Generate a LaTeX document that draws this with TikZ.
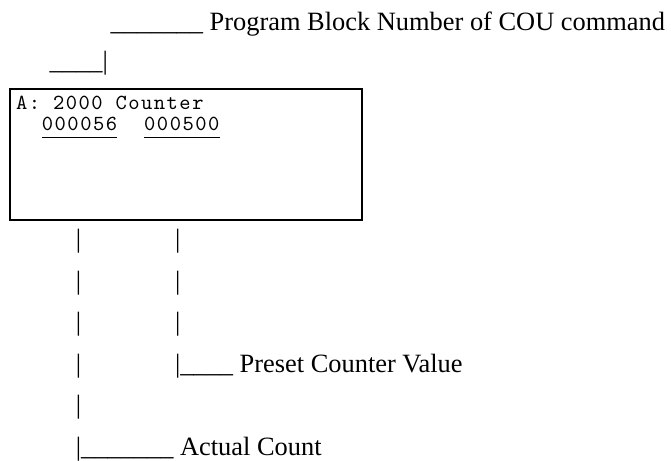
\documentclass[tikz,border=0pt]{standalone}
\usepackage{fontspec}
\setmainfont{Liberation Serif}
\newfontfamily\boxmono{lmmono10-regular.otf}[LetterSpace=7]
\begin{document}
\begin{tikzpicture}[x=1pt,y=-1pt]
\tikzset{
  lbl/.style={inner sep=0pt, anchor=base west, font=\fontsize{26.4}{30}\selectfont},
  mono/.style={inner sep=0pt, anchor=base west, font=\boxmono\fontsize{21.5}{24}\selectfont},
  frame/.style={draw, line width=2pt, inner sep=0pt, anchor=north west, minimum width=352pt, minimum height=131pt},
  uline/.style={line width=1pt}
}
\useasboundingbox (0,0) rectangle (671,460);
\node[lbl] (top) at (110.5,30.5) {\_\_\_\_\_\_\_ Program Block Number of COU command};
\node[lbl] (corner) at (49.5,70) {\_\_\_\_\textbar};
\node[frame] (box) at (8.5,87.5) {};
\node[mono] (title) at (16,109) {A: 2000 Counter};
\node[mono] (cnt) at (41.7,130.5) {000056};
\node[mono] (pre) at (144,130.5) {000500};
\draw[uline] ([yshift=-6.5pt]cnt.base west) -- ([yshift=-6.5pt]cnt.base east);
\draw[uline] ([yshift=-6.5pt]pre.base west) -- ([yshift=-6.5pt]pre.base east);
% left column
\node[lbl] (a1) at (75.6,247) {\textbar};
\node[lbl] (a2) at (75.6,289) {\textbar};
\node[lbl] (a3) at (75.6,330.5) {\textbar};
\node[lbl] (a4) at (75.6,372) {\textbar};
\node[lbl] (a5) at (75.6,413.5) {\textbar};
\node[lbl] (actual) at (75.6,455) {\textbar\_\_\_\_\_\_\_ Actual Count};
% right column
\node[lbl] (b1) at (174.8,247) {\textbar};
\node[lbl] (b2) at (174.8,289) {\textbar};
\node[lbl] (b3) at (174.8,330.5) {\textbar};
\node[lbl] (preset) at (174.8,372) {\textbar\_\_\_\_ Preset Counter Value};
\end{tikzpicture}
\end{document}
